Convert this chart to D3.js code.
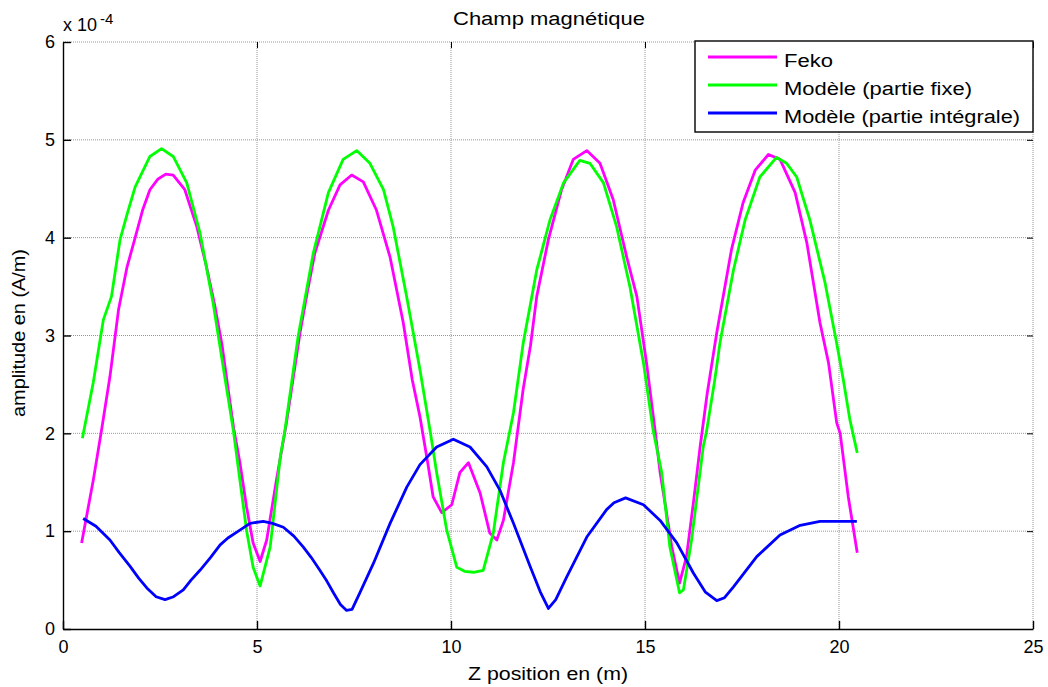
<!DOCTYPE html>
<html><head><meta charset="utf-8">
<script src="https://cdn.jsdelivr.net/npm/d3@7"></script>
<style>
body{margin:0;background:#fff;}
text{font-family:"Liberation Sans",Arial,sans-serif;fill:#000;}
</style></head>
<body><svg id="c" width="1048" height="687"></svg>
<script>
const title = "Champ magnétique";
const xLabel = "Z position en (m)";
const yLabel = "amplitude en (A/m)";
const seriesNames = ["Feko", "Modèle (partie fixe)", "Modèle (partie intégrale)"];
const seriesColors = ["#ff00ff", "#00ff00", "#0000ff"];
const xTicks = [0, 5, 10, 15, 20, 25];
const yTicks = [0, 1, 2, 3, 4, 5, 6];

// values in units of 1e-4 A/m
const zFeko = [0.48,0.78,1.0,1.21,1.43,1.65,1.86,2.05,2.24,2.45,2.65,2.84,3.14,3.45,3.70,3.92,4.10,4.26,4.40,4.56,4.73,4.90,5.08,5.25,5.50,5.76,6.11,6.30,6.49,6.84,7.14,7.44,7.74,8.08,8.43,8.77,9.00,9.20,9.40,9.54,9.76,10.02,10.23,10.45,10.75,11.00,11.18,11.35,11.61,11.86,12.05,12.21,12.51,12.85,13.15,13.50,13.84,14.18,14.53,14.79,15.04,15.26,15.39,15.55,15.69,15.89,16.07,16.25,16.42,16.60,16.85,17.23,17.53,17.84,18.18,18.48,18.87,19.17,19.51,19.73,19.94,20.03,20.24,20.47];
const feko = [0.88,1.52,2.05,2.58,3.26,3.70,4.00,4.28,4.49,4.60,4.65,4.64,4.49,4.11,3.70,3.29,2.90,2.44,2.05,1.70,1.25,0.88,0.69,0.91,1.52,2.11,3.03,3.45,3.84,4.28,4.54,4.64,4.57,4.28,3.80,3.13,2.55,2.17,1.70,1.35,1.19,1.27,1.60,1.70,1.39,0.98,0.91,1.11,1.70,2.45,2.90,3.40,3.98,4.49,4.80,4.89,4.76,4.39,3.80,3.40,2.72,2.03,1.60,1.20,0.84,0.47,0.74,1.30,1.86,2.40,3.03,3.88,4.36,4.69,4.85,4.80,4.46,3.95,3.13,2.72,2.11,2.00,1.35,0.78];

const zFixe = [0.50,0.78,1.04,1.25,1.47,1.66,1.86,2.24,2.54,2.84,3.19,3.53,3.87,4.18,4.39,4.56,4.73,4.90,5.08,5.34,5.60,5.72,6.06,6.45,6.84,7.22,7.57,7.91,8.26,8.51,8.86,9.20,9.46,9.63,9.89,10.15,10.35,10.58,10.83,11.09,11.35,11.61,11.86,12.21,12.55,12.90,13.32,13.58,13.93,14.27,14.61,14.96,15.21,15.43,15.64,15.89,15.99,16.20,16.50,16.59,16.80,16.93,17.28,17.58,17.96,18.39,18.65,18.91,19.25,19.64,19.94,20.11,20.28,20.47];
const fixe = [1.95,2.52,3.16,3.40,3.98,4.25,4.52,4.83,4.91,4.83,4.56,4.05,3.33,2.55,2.03,1.52,1.01,0.63,0.44,0.84,1.76,2.03,2.99,3.84,4.46,4.80,4.89,4.76,4.49,4.11,3.39,2.65,2.03,1.60,1.01,0.63,0.59,0.58,0.60,0.98,1.70,2.21,2.92,3.67,4.18,4.56,4.79,4.76,4.56,4.11,3.50,2.72,2.03,1.60,0.84,0.37,0.40,0.91,1.86,2.03,2.55,2.92,3.67,4.18,4.62,4.82,4.76,4.62,4.18,3.54,2.92,2.55,2.14,1.80];

const zInt = [0.52,0.85,1.21,1.45,1.73,1.95,2.16,2.40,2.63,2.85,3.10,3.30,3.53,3.80,4.05,4.25,4.48,4.82,5.16,5.40,5.68,5.95,6.19,6.40,6.62,6.80,6.97,7.15,7.31,7.45,7.65,8.00,8.43,8.86,9.20,9.63,10.06,10.49,10.92,11.26,11.61,12.04,12.30,12.51,12.70,12.98,13.50,14.01,14.20,14.50,14.96,15.39,15.82,16.25,16.55,16.85,17.05,17.28,17.88,18.48,19.00,19.51,20.46];
const integ = [1.13,1.05,0.91,0.78,0.64,0.52,0.42,0.33,0.30,0.33,0.40,0.50,0.60,0.73,0.86,0.93,0.99,1.08,1.10,1.08,1.04,0.95,0.84,0.73,0.60,0.49,0.37,0.25,0.19,0.20,0.37,0.67,1.08,1.45,1.68,1.86,1.94,1.86,1.66,1.42,1.08,0.64,0.38,0.21,0.30,0.53,0.94,1.22,1.29,1.34,1.27,1.11,0.88,0.57,0.38,0.29,0.32,0.43,0.74,0.96,1.06,1.10,1.10];

const svg = d3.select("#c");
const L = 63, R = 1033, T = 42, B = 629;
const x = d3.scaleLinear().domain([0, 25]).range([L, R]);
const y = d3.scaleLinear().domain([0, 6]).range([B, T]);

// grid
const g = svg.append("g");
g.selectAll(".gx").data(xTicks.slice(1)).enter().append("line")
  .attr("x1", d => x(d)).attr("x2", d => x(d)).attr("y1", B).attr("y2", T)
  .attr("stroke", "#999").attr("stroke-width", 1).attr("stroke-dasharray", "1,1");
g.selectAll(".gy").data(yTicks.slice(1)).enter().append("line")
  .attr("x1", L).attr("x2", R).attr("y1", d => y(d)).attr("y2", d => y(d))
  .attr("stroke", "#999").attr("stroke-width", 1).attr("stroke-dasharray", "1,1");

// axes
const xa = svg.append("g").attr("transform", `translate(0,${B})`)
  .call(d3.axisBottom(x).tickValues(xTicks).tickFormat(d3.format("d")).tickSizeInner(-8).tickSizeOuter(0).tickPadding(11));
const ya = svg.append("g").attr("transform", `translate(${L},0)`)
  .call(d3.axisLeft(y).tickValues(yTicks).tickFormat(d3.format("d")).tickSizeInner(-8).tickSizeOuter(0).tickPadding(8));
[xa, ya].forEach(a => {
  a.select(".domain").attr("stroke", "#000").attr("stroke-width", 1.4);
  a.selectAll(".tick line").attr("stroke", "#000").attr("stroke-width", 1.4);
  a.selectAll(".tick text").style("font-size", "18px").style("font-family", "Liberation Sans, Arial, sans-serif");
});
// ticks on right and top (no axis line)
svg.append("g").attr("transform", `translate(${R},0)`)
  .call(d3.axisRight(y).tickValues(yTicks).tickFormat("").tickSizeInner(-6).tickSizeOuter(0))
  .call(a => { a.select(".domain").remove(); a.selectAll("line").attr("stroke", "#000"); });
svg.append("g").attr("transform", `translate(0,${T})`)
  .call(d3.axisTop(x).tickValues(xTicks).tickFormat("").tickSizeInner(-6).tickSizeOuter(0))
  .call(a => { a.select(".domain").remove(); a.selectAll("line").attr("stroke", "#000"); });

// lines
const zs = [zFeko, zFixe, zInt];
const vs = [feko, fixe, integ];
const line = d3.line().x(d => x(d[0])).y(d => y(d[1]));
vs.forEach((v, i) => {
  svg.append("path").datum(v.map((val, j) => [zs[i][j], val]))
    .attr("fill", "none").attr("stroke", seriesColors[i]).attr("stroke-width", 2.8)
    .attr("stroke-linejoin", "round").attr("d", line);
});

// exponent label
const ex = svg.append("text").attr("x", 63).attr("y", 31).style("font-size", "18px");
ex.append("tspan").text("x 10");
ex.append("tspan").attr("dx", 3).attr("dy", -7).style("font-size", "15px").text("-4");

// title and labels
svg.append("text").attr("x", 549).attr("y", 25).attr("text-anchor", "middle").style("font-size", "18px")
  .attr("textLength", 192).attr("lengthAdjust", "spacingAndGlyphs").text(title);
svg.append("text").attr("x", 548).attr("y", 680).attr("text-anchor", "middle").style("font-size", "18px")
  .attr("textLength", 160).attr("lengthAdjust", "spacingAndGlyphs").text(xLabel);
svg.append("text").attr("transform", "translate(25,333) rotate(-90)").attr("text-anchor", "middle").style("font-size", "18px")
  .attr("textLength", 168).attr("lengthAdjust", "spacingAndGlyphs").text(yLabel);

// legend
const legendWidths = [49, 188, 236];
const lg = svg.append("g");
lg.append("rect").attr("x", 695).attr("y", 41).attr("width", 338).attr("height", 91)
  .attr("fill", "#fff").attr("stroke", "#000").attr("stroke-width", 1.4);
seriesNames.forEach((n, i) => {
  const cy = 57 + i * 28;
  lg.append("line").attr("x1", 708).attr("x2", 777).attr("y1", cy).attr("y2", cy)
    .attr("stroke", seriesColors[i]).attr("stroke-width", 2.8);
  lg.append("text").attr("x", 784).attr("y", cy + 10).style("font-size", "18px")
    .attr("textLength", legendWidths[i]).attr("lengthAdjust", "spacingAndGlyphs").text(n);
});
</script></body></html>
